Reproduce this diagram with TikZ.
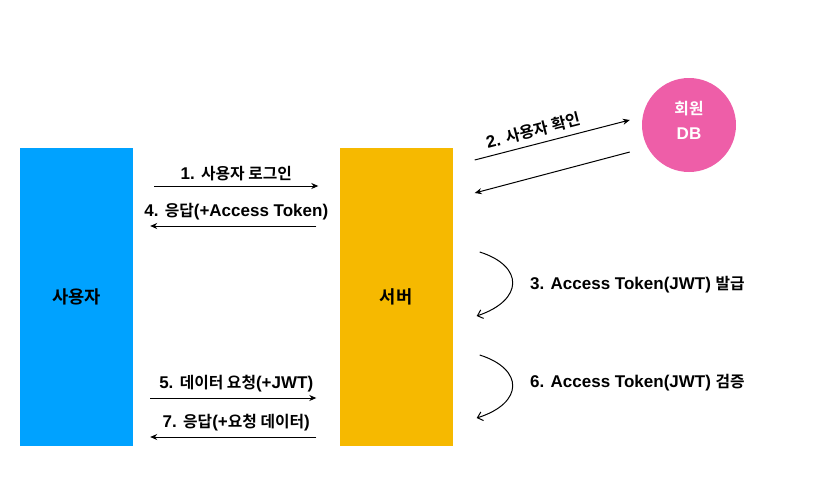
\documentclass[tikz,border=0pt]{standalone}
\usepackage{fontspec}
\setmainfont{Liberation Sans}[BoldFont={Liberation Sans Bold}]
\newfontfamily\kr{Noto Sans CJK KR}[BoldFont={Noto Sans CJK KR Bold}, Scale=0.93]
\newcommand\ko[1]{{\kr #1}}
\usepackage{tikz}
\usetikzlibrary{positioning, arrows.meta, calc}
\definecolor{userblue}{RGB}{0, 162, 255}
\definecolor{serverorange}{RGB}{246, 185, 0}
\definecolor{dbpink}{RGB}{238, 94, 168}

\tikzset{
  actor/.style={minimum width=113pt, minimum height=298pt, inner sep=0pt,
                font=\bfseries\kr\fontsize{19}{22}\selectfont},
  msg/.style={-{Stealth[length=7pt,width=6pt]}, line width=1pt},
  msglabel/.style={font=\bfseries\fontsize{17}{20}\selectfont, inner sep=2pt},
  selfloop/.style={-{Straight Barb[length=5pt,width=9pt]}, line width=1pt}
}

\begin{document}
\begin{tikzpicture}[x=1pt, y=-1pt]
  \useasboundingbox (0,0) rectangle (829,495);

  % the two parties
  \node[actor, fill=userblue] (user) at (76.5,297) {사용자};
  \node[actor, fill=serverorange] (server) at (396,297) {서버};
  \node[circle, fill=dbpink, minimum size=94pt, inner sep=0pt, align=center,
        text=white, font=\bfseries\fontsize{17}{25}\selectfont] (db) at (689,125) {\ko{회원}\\DB\\[-15pt]};

  % user <-> server
  \draw[msg, shorten <=21pt, shorten >=21pt] (user.east |- 0,186) -- (server.west |- 0,186)
    node[msglabel, midway, above=3pt] {1. \ko{사용자 로그인}};
  \draw[msg, shorten <=23pt, shorten >=17pt] (server.west |- 0,226) -- (user.east |- 0,226)
    node[msglabel, midway, above=3pt] {4. \ko{응답}(+Access Token)};
  \draw[msg, shorten <=17pt, shorten >=23pt] (user.east |- 0,398) -- (server.west |- 0,398)
    node[msglabel, midway, above=3pt] {5. \ko{데이터 요청}(+JWT)};
  \draw[msg, shorten <=23pt, shorten >=17pt] (server.west |- 0,437) -- (user.east |- 0,437)
    node[msglabel, midway, above=3pt] {7. \ko{응답}(+\ko{요청 데이터})};

  % server <-> db
  \draw[msg] ([xshift=22pt]server.east |- 0,160) -- ([xshift=-12pt,yshift=5pt]db.west)
    node[msglabel, pos=0.4, sloped, above=4pt] {2. \ko{사용자 확인}};
  \draw[msg] ([xshift=-12pt,yshift=-27pt]db.west) -- ([xshift=22pt]server.east |- 0,193);

  % work done on the server
  \draw[selfloop] ([xshift=27pt]server.east |- 0,252) .. controls (524,266) and (524,300) .. ([xshift=24pt]server.east |- 0,316);
  \draw[selfloop] ([xshift=27pt]server.east |- 0,355) .. controls (524,369) and (524,403) .. ([xshift=24pt]server.east |- 0,418);
  \node[msglabel, anchor=west] (issue) at (528,285) {3. Access Token(JWT) \ko{발급}};
  \node[msglabel, anchor=west] (verify) at (528,383) {6. Access Token(JWT) \ko{검증}};
\end{tikzpicture}
\end{document}
